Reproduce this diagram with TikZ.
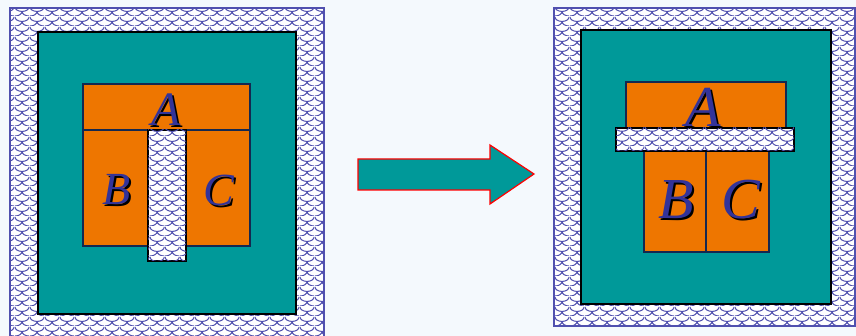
\documentclass[tikz,border=0pt]{standalone}
\usepackage{fontspec}
\setmainfont{Liberation Serif}
\usetikzlibrary{patterns,calc}
\pgfdeclarepatternformonly{scales}{\pgfqpoint{0pt}{0pt}}{\pgfqpoint{15pt}{10pt}}{\pgfqpoint{15pt}{10pt}}{%
  \pgfsetlinewidth{1.1pt}%
  \pgfpathmoveto{\pgfqpoint{0pt}{10pt}}%
  \pgfpatharc{180}{360}{7.5pt and 5pt}%
  \pgfpathmoveto{\pgfqpoint{0pt}{0pt}}%
  \pgfpatharc{270}{360}{7.5pt and 5pt}%
  \pgfpathmoveto{\pgfqpoint{7.5pt}{5pt}}%
  \pgfpatharc{180}{270}{7.5pt and 5pt}%
  \pgfusepath{stroke}%
}
\definecolor{bg}{RGB}{244,249,253}
\definecolor{tealc}{RGB}{0,153,153}
\definecolor{orangec}{RGB}{238,118,0}
\definecolor{letter}{RGB}{51,51,153}
\definecolor{patc}{RGB}{80,80,175}
\definecolor{navy}{RGB}{20,40,80}
\tikzset{
  frame/.style={draw=patc, line width=1.2pt, fill=white, postaction={pattern=scales, pattern color=patc}},
  inner/.style={draw=black, line width=1.8pt, fill=tealc},
  orangebox/.style={draw=navy, line width=1.2pt, fill=orangec},
  bar/.style={draw=black, line width=1.8pt, fill=white, postaction={pattern=scales, pattern color=patc}},
  shadowtxt/.style={text=black, font=\fontsize{#1}{#1}\selectfont\itshape, inner sep=0pt},
  maintxt/.style={text=letter, font=\fontsize{#1}{#1}\selectfont\itshape, inner sep=0pt},
}
\begin{document}
\begin{tikzpicture}[x=1pt,y=-1pt]
\useasboundingbox (0,0) rectangle (856,336);
\fill[bg] (0,0) rectangle (856,336);
\clip (0,0) rectangle (856,336);
% left
\draw[frame] (10,8) rectangle (324,345);
\draw[inner] (38,32) rectangle (296,314);
\draw[orangebox] (83,84) rectangle (250,246);
\draw[navy, line width=1.2pt] (83,130) -- (250,130);
\draw[bar] (148,130) rectangle (186,261);
\node[shadowtxt=48] at (168,112) {A};
\node[maintxt=48] (LA) at (166,110) {A};
\node[shadowtxt=46] at (118.5,192) {B};
\node[maintxt=46] (LB) at (116.5,190) {B};
\node[shadowtxt=46] at (220.5,192) {C};
\node[maintxt=46] (LC) at (218.5,190) {C};
% arrow
\draw[draw=red, line width=1.2pt, fill=tealc] (358,159) -- (490,159) -- (490,145) -- (534,174) -- (490,204) -- (490,190) -- (358,190) -- cycle;
% right
\draw[frame] (554,8) rectangle (855,326);
\draw[inner] (581,30) rectangle (831,304);
\draw[orangebox] (626,82) rectangle (786,128);
\draw[orangebox] (644,151) rectangle (769,252);
\draw[navy, line width=1.2pt] (706,151) -- (706,252);
\draw[bar] (616,128) rectangle (794,151);
\node[shadowtxt=58] at (705.5,109) {A};
\node[maintxt=58] (RA) at (703.5,107) {A};
\node[shadowtxt=58] at (678.5,202) {B};
\node[maintxt=58] (RB) at (676.5,200) {B};
\node[shadowtxt=58] at (742.5,202) {C};
\node[maintxt=58] (RC) at (740.5,200) {C};
\end{tikzpicture}
\end{document}
